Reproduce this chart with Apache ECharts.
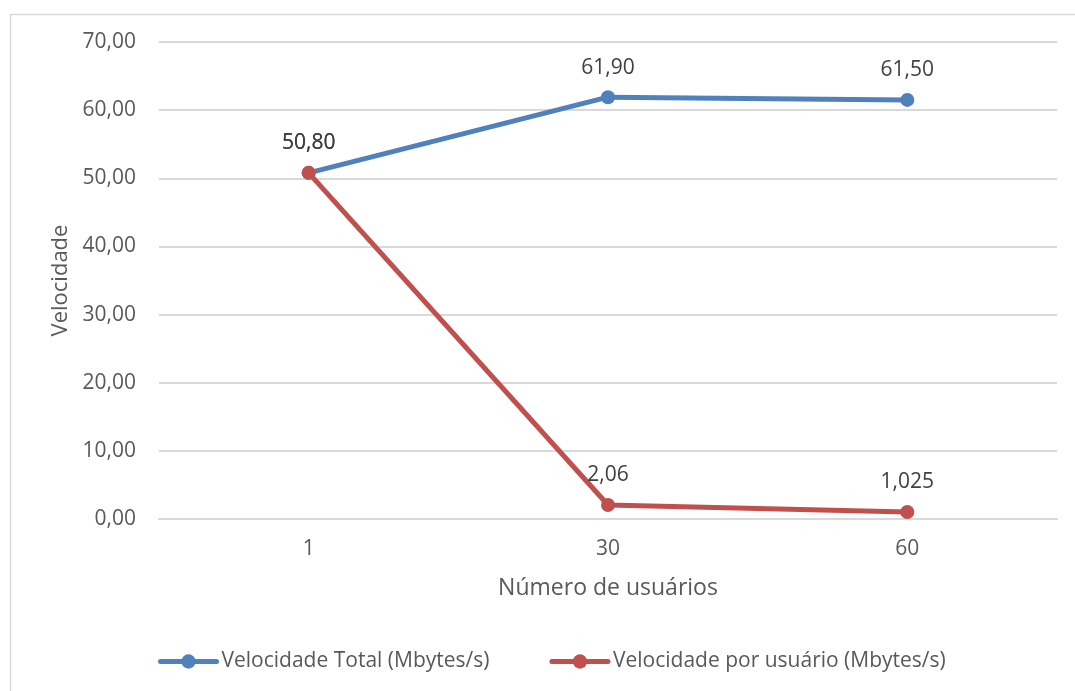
<!DOCTYPE html>
<html>
<head>
<meta charset="utf-8">
<script src="https://cdn.jsdelivr.net/npm/echarts@6/dist/echarts.min.js"></script>
<style>
  html, body { margin: 0; padding: 0; background: #fff; }
  #chart { width: 1075px; height: 691px; }
</style>
</head>
<body>
<div id="chart"></div>
<script>
// Number of concurrent users tested
const categories = ['1', '30', '60'];
// Throughput measurements, in Mbytes/s
const velocidadeTotal = [50.8, 61.9, 61.5];
const velocidadePorUsuario = [50.8, 2.06, 1.025];
const seriesNames = ['Velocidade Total (Mbytes/s)', 'Velocidade por usuário (Mbytes/s)'];
const yTicks = { min: 0, max: 70, interval: 10 };

const FONT = '"Open Sans", sans-serif';

// Decimal comma, at least two decimals (keeps extra digits such as 1,025)
function fmtValue(v) {
  const s = String(v);
  const frac = s.includes('.') ? s.split('.')[1].length : 0;
  return v.toFixed(Math.max(2, frac)).replace('.', ',');
}

const chart = echarts.init(document.getElementById('chart'), null, { renderer: 'canvas' });

function lineSeries(name, data, color) {
  return {
    name: name,
    type: 'line',
    data: data,
    symbol: 'circle',
    symbolSize: 14,
    lineStyle: { width: 5, color: color, cap: 'round' },
    itemStyle: { color: color },
    label: {
      show: true,
      position: 'top',
      distance: 12,
      color: '#404040',
      fontFamily: FONT,
      fontSize: 21,
      formatter: p => fmtValue(p.value)
    },
    emphasis: { disabled: true },
    animation: false
  };
}

chart.setOption({
  animation: false,
  graphic: [{
    type: 'rect',
    left: 8, top: 12,
    shape: { width: 1200, height: 800 },
    style: { fill: 'none', stroke: '#d9d9d9', lineWidth: 1.5 },
    silent: true,
    z: -1
  }],
  grid: { left: 159, right: 18, top: 42, bottom: 172 },
  xAxis: {
    type: 'category',
    data: categories,
    boundaryGap: true,
    axisLine: { show: true, lineStyle: { color: '#d9d9d9', width: 2 } },
    axisTick: { show: false },
    axisLabel: { color: '#595959', fontFamily: FONT, fontSize: 21, margin: 20 },
    name: 'Número de usuários',
    nameLocation: 'middle',
    nameGap: 58,
    nameTextStyle: { color: '#595959', fontFamily: FONT, fontSize: 23 }
  },
  yAxis: {
    type: 'value',
    min: yTicks.min, max: yTicks.max, interval: yTicks.interval,
    axisLine: { show: false },
    axisTick: { show: false },
    splitLine: { lineStyle: { color: '#d9d9d9', width: 2 } },
    axisLabel: {
      color: '#595959', fontFamily: FONT, fontSize: 21, margin: 23,
      formatter: v => v.toFixed(2).replace('.', ',')
    },
    name: 'Velocidade',
    nameLocation: 'middle',
    nameGap: 86,
    nameRotate: 90,
    nameTextStyle: { color: '#595959', fontFamily: FONT, fontSize: 22 }
  },
  legend: {
    left: 153,
    top: 646,
    itemWidth: 56,
    itemHeight: 18,
    itemGap: 60,
    lineStyle: { width: 5 },
    textStyle: { color: '#595959', fontFamily: FONT, fontSize: 21 },
    data: seriesNames
  },
  series: [
    lineSeries(seriesNames[0], velocidadeTotal, '#4f81bd'),
    lineSeries(seriesNames[1], velocidadePorUsuario, '#c0504d')
  ]
});
</script>
</body>
</html>
